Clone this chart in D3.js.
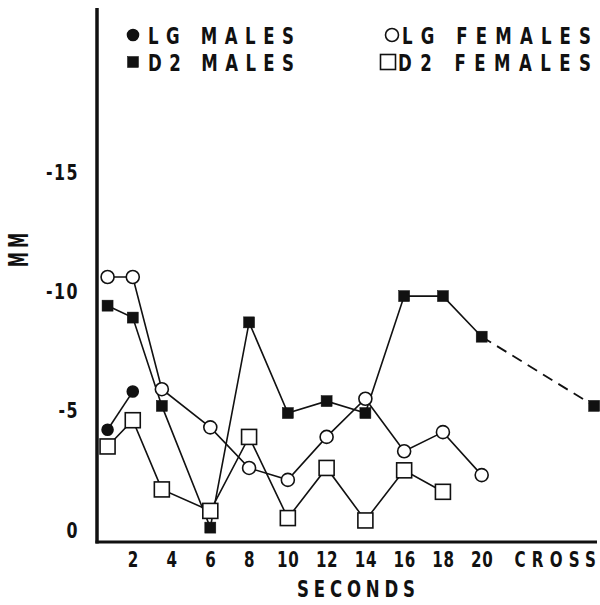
<!DOCTYPE html>
<html>
<head>
<meta charset="utf-8">
<script src="https://cdn.jsdelivr.net/npm/d3@7"></script>
<style>
  html, body { margin: 0; padding: 0; background: #fff; }
  svg text { font-family: "DejaVu Sans", sans-serif; font-weight: bold; fill: #111; }
</style>
</head>
<body>
<script>
// Données (mm, valeurs négatives vers le haut)
const SECONDS = [0.7, 2, 3.5, 6, 8, 10, 12, 14, 16, 18, 20];
const CROSS_X = 25.8;

const LG_MALES = [-4.2, -5.8];
const D2_MALES = [-9.4, -8.9, -5.2, -0.1, -8.7, -4.9, -5.4, -4.9, -9.8, -9.8, -8.1];
const D2_MALES_CROSS = -5.2;
const LG_FEMALES = [-10.6, -10.6, -5.9, -4.3, -2.6, -2.1, -3.9, -5.5, -3.3, -4.1, -2.3];
const D2_FEMALES = [-3.5, -4.6, -1.7, -0.8, -3.9, -0.5, -2.6, -0.4, -2.5, -1.6];

const X_TICKS = [2, 4, 6, 8, 10, 12, 14, 16, 18, 20];
const Y_TICKS = [0, -5, -10, -15];

const WIDTH = 600, HEIGHT = 605;
const AXIS_X = 97, AXIS_Y = 542, AXIS_TOP = 8, AXIS_RIGHT = 597;
const SX = 0.72; // lettrage étroit

const svg = d3.select("body").append("svg")
    .attr("width", WIDTH)
    .attr("height", HEIGHT);

// Scales
const xScale = d3.scaleLinear().domain([0, 26]).range([94, 598]);
const yScale = d3.scaleLinear().domain([0, -15]).range([530, 172]);

const pts = vals => vals.map((v, i) => [SECONDS[i], v]);

const series = [
    { name: "D2 FEMALES", data: pts(D2_FEMALES), shape: "square", filled: false },
    { name: "LG FEMALES", data: pts(LG_FEMALES), shape: "circle", filled: false },
    { name: "D2 MALES", data: pts(D2_MALES), shape: "square", filled: true },
    { name: "LG MALES", data: pts(LG_MALES), shape: "circle", filled: true }
];

const line = d3.line()
    .x(d => xScale(d[0]))
    .y(d => yScale(d[1]));

// Lignes
series.forEach(s => {
    svg.append("path")
        .datum(s.data)
        .attr("d", line)
        .attr("fill", "none")
        .attr("stroke", "#111")
        .attr("stroke-width", 1.6);
});

// Segment pointillé vers CROSS
const d2Last = [SECONDS[D2_MALES.length - 1], D2_MALES[D2_MALES.length - 1]];
svg.append("path")
    .datum([d2Last, [CROSS_X, D2_MALES_CROSS]])
    .attr("d", line)
    .attr("fill", "none")
    .attr("stroke", "#111")
    .attr("stroke-width", 1.8)
    .attr("stroke-dasharray", "11,7");

function drawMarker(g, shape, filled, cx, cy) {
    if (shape === "circle") {
        g.append("circle")
            .attr("cx", cx).attr("cy", cy)
            .attr("r", filled ? 5.5 : 6.5)
            .attr("fill", filled ? "#111" : "#fff")
            .attr("stroke", "#111")
            .attr("stroke-width", 1.6);
    } else {
        const s = filled ? 11 : 15;
        g.append("rect")
            .attr("x", cx - s / 2).attr("y", cy - s / 2)
            .attr("width", s).attr("height", s)
            .attr("fill", filled ? "#111" : "#fff")
            .attr("stroke", "#111")
            .attr("stroke-width", filled ? 0.5 : 1.6);
    }
}

// Marqueurs
const markers = svg.append("g");
series.forEach(s => {
    s.data.forEach(d => drawMarker(markers, s.shape, s.filled, xScale(d[0]), yScale(d[1])));
});
drawMarker(markers, "square", true, xScale(CROSS_X), yScale(D2_MALES_CROSS));

// Axe Y
const yAxis = svg.append("g")
    .attr("transform", `translate(${AXIS_X},0)`)
    .call(d3.axisLeft(yScale).tickValues(Y_TICKS).tickSize(0)
        .tickFormat(d => d === 0 ? "0" : "-" + Math.abs(d)));
yAxis.select(".domain").remove();
yAxis.selectAll("text")
    .attr("font-size", 22)
    .attr("letter-spacing", 2)
    .attr("font-family", null)
    .attr("x", -18 / SX)
    .attr("transform", `scale(${SX},1)`);

// Axe X
const xAxis = svg.append("g")
    .attr("transform", `translate(0,${AXIS_Y})`)
    .call(d3.axisBottom(xScale).tickValues(X_TICKS.concat([CROSS_X])).tickSize(0).tickPadding(10)
        .tickFormat(d => d === CROSS_X ? "CROSS" : d));
xAxis.select(".domain").remove();
xAxis.selectAll("text")
    .attr("font-size", 21)
    .attr("letter-spacing", 1)
    .attr("font-family", null)
    .attr("transform", `scale(${SX},1)`);
xAxis.selectAll(".tick")
    .filter(d => d === CROSS_X)
    .select("text")
    .attr("text-anchor", "end")
    .attr("x", 2 / SX)
    .attr("textLength", 82 / SX)
    .attr("lengthAdjust", "spacing");

// Traits des axes
svg.append("line")
    .attr("x1", AXIS_X).attr("x2", AXIS_X)
    .attr("y1", AXIS_TOP).attr("y2", AXIS_Y + 1.5)
    .attr("stroke", "#111").attr("stroke-width", 3.5);
svg.append("line")
    .attr("x1", AXIS_X - 1.5).attr("x2", AXIS_RIGHT)
    .attr("y1", AXIS_Y).attr("y2", AXIS_Y)
    .attr("stroke", "#111").attr("stroke-width", 3);

// Titres des axes
svg.append("text")
    .attr("transform", `translate(356,597) scale(${SX},1)`)
    .attr("text-anchor", "middle")
    .attr("font-size", 23)
    .attr("textLength", 118 / SX)
    .attr("lengthAdjust", "spacing")
    .text("SECONDS");

svg.append("text")
    .attr("transform", "translate(28,250) rotate(-90) scale(0.55,1)")
    .attr("text-anchor", "middle")
    .attr("font-size", 27)
    .attr("textLength", 34 / 0.55)
    .attr("lengthAdjust", "spacing")
    .text("MM");

// Légende
const legend = [
    { label: "LG MALES", shape: "circle", filled: true, mx: 133, tx: 148, y: 35, len: 146 },
    { label: "D2 MALES", shape: "square", filled: true, mx: 133, tx: 148, y: 62, len: 146 },
    { label: "LG FEMALES", shape: "circle", filled: false, mx: 392, tx: 402, y: 35, len: 189 },
    { label: "D2 FEMALES", shape: "square", filled: false, mx: 388, tx: 398, y: 62, len: 193 }
];
const lg = svg.append("g");
legend.forEach(l => {
    drawMarker(lg, l.shape, l.filled, l.mx, l.y);
    lg.append("text")
        .attr("transform", `translate(${l.tx},${l.y + 9}) scale(${SX},1)`)
        .attr("font-size", 23)
        .attr("textLength", l.len / SX)
        .attr("lengthAdjust", "spacing")
        .text(l.label);
});
</script>
</body>
</html>
